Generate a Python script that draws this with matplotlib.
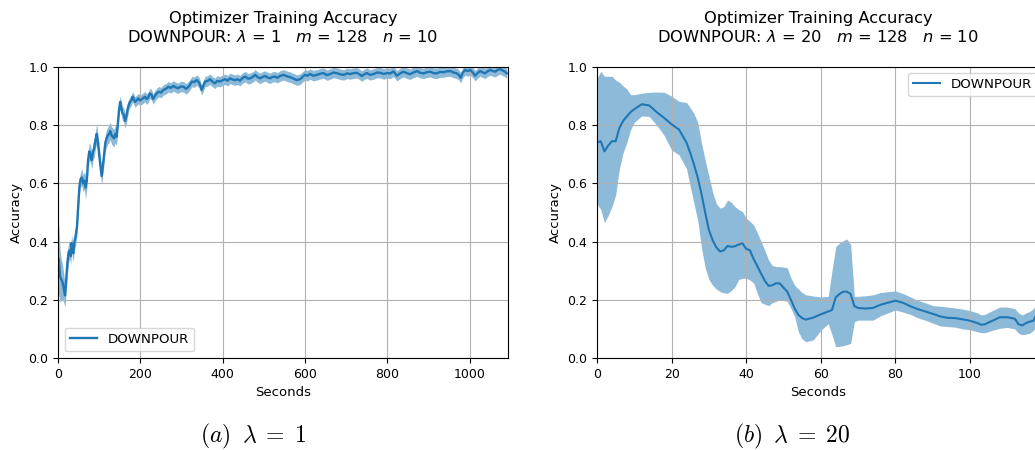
import numpy as np
import matplotlib
matplotlib.use("Agg")
from matplotlib import pyplot as plt

plt.rcParams['mathtext.fontset'] = 'cm'

# --- left panel: lambda = 1 (seconds, mean accuracy, band half width)
left_t = [0, 2, 5, 8, 11, 14, 17, 20, 23, 26,
          29, 31, 33, 35, 37, 40, 43, 46, 49, 52,
          55, 58, 61, 64, 67, 70, 73, 76, 79, 82,
          85, 88, 91, 94, 97, 100, 103, 106, 109, 112,
          115, 118, 121, 124, 127, 130, 133, 136, 139, 142,
          145, 148, 151, 154, 157, 160, 163, 166, 169, 172,
          175, 178, 181, 184, 187, 191, 195, 199, 203, 207,
          211, 215, 219, 223, 227, 231, 235, 240, 245, 250,
          256, 262, 268, 274, 280, 286, 292, 298, 305, 311,
          317, 321, 325, 331, 337, 342, 345, 349, 353, 357,
          363, 369, 375, 381, 387, 394, 400, 406, 412, 418,
          424, 430, 436, 442, 448, 455, 461, 467, 473, 479,
          485, 491, 497, 503, 509, 515, 521, 527, 533, 539,
          548, 556, 564, 572, 580, 588, 594, 600, 606, 612,
          620, 629, 637, 645, 653, 661, 669, 677, 685, 694,
          702, 710, 718, 726, 732, 738, 744, 750, 758, 767,
          775, 783, 791, 799, 807, 815, 823, 831, 839, 847,
          855, 863, 872, 880, 888, 896, 904, 912, 920, 928,
          936, 944, 953, 961, 969, 974, 978, 983, 989, 995,
          1001, 1007, 1013, 1019, 1025, 1031, 1037, 1043, 1050, 1056,
          1062, 1068, 1074, 1080, 1086, 1090]
left_acc = [0.30, 0.34, 0.28, 0.27, 0.26, 0.24, 0.215, 0.27, 0.33, 0.365,
            0.37, 0.35, 0.395, 0.375, 0.36, 0.40, 0.42, 0.45, 0.52, 0.59,
            0.615, 0.62, 0.60, 0.61, 0.585, 0.61, 0.68, 0.71, 0.70, 0.68,
            0.71, 0.72, 0.75, 0.77, 0.74, 0.70, 0.66, 0.625, 0.66, 0.70,
            0.74, 0.755, 0.765, 0.77, 0.78, 0.765, 0.76, 0.755, 0.77, 0.76,
            0.80, 0.85, 0.88, 0.855, 0.84, 0.835, 0.815, 0.83, 0.855, 0.87,
            0.88, 0.885, 0.898, 0.89, 0.88, 0.885, 0.892, 0.885, 0.889, 0.893,
            0.898, 0.89, 0.895, 0.909, 0.905, 0.89, 0.90, 0.91, 0.915, 0.912,
            0.921, 0.925, 0.932, 0.928, 0.935, 0.93, 0.927, 0.933, 0.932, 0.925,
            0.932, 0.94, 0.95, 0.948, 0.955, 0.948, 0.938, 0.921, 0.935, 0.95,
            0.952, 0.958, 0.95, 0.944, 0.952, 0.95, 0.955, 0.958, 0.953, 0.961,
            0.957, 0.955, 0.958, 0.953, 0.962, 0.967, 0.96, 0.961, 0.966, 0.973,
            0.965, 0.961, 0.966, 0.969, 0.964, 0.961, 0.966, 0.967, 0.963, 0.969,
            0.973, 0.968, 0.965, 0.96, 0.955, 0.958, 0.966, 0.973, 0.97, 0.976,
            0.97, 0.973, 0.977, 0.979, 0.972, 0.976, 0.981, 0.979, 0.975, 0.973,
            0.978, 0.976, 0.979, 0.98, 0.975, 0.969, 0.975, 0.979, 0.973, 0.976,
            0.981, 0.98, 0.976, 0.979, 0.978, 0.985, 0.97, 0.978, 0.984, 0.979,
            0.975, 0.981, 0.986, 0.98, 0.978, 0.982, 0.984, 0.979, 0.978, 0.983,
            0.982, 0.985, 0.986, 0.981, 0.978, 0.972, 0.963, 0.98, 0.99, 0.986,
            0.99, 0.982, 0.97, 0.979, 0.986, 0.982, 0.978, 0.985, 0.99, 0.986,
            0.984, 0.99, 0.993, 0.988, 0.984, 0.978]
left_err = [0.15, 0.12, 0.09, 0.07, 0.06, 0.05, 0.04, 0.04, 0.04, 0.035,
            0.03, 0.03, 0.03, 0.03, 0.03, 0.03, 0.03, 0.03, 0.03, 0.03,
            0.025, 0.03, 0.03, 0.03, 0.04, 0.03, 0.03, 0.03, 0.03, 0.03,
            0.03, 0.03, 0.03, 0.035, 0.03, 0.03, 0.03, 0.03, 0.03, 0.03,
            0.03, 0.03, 0.03, 0.03, 0.03, 0.03, 0.03, 0.03, 0.03, 0.03,
            0.03, 0.025, 0.02, 0.025, 0.025, 0.025, 0.025, 0.025, 0.025, 0.02]
left_err = left_err + [0.018] * (len(left_t) - len(left_err))

# --- right panel: lambda = 20
right_t = [0, 1, 2, 3, 4, 5, 6, 7, 8, 9,
           10, 12, 14, 16, 18, 20, 22, 24, 25, 26,
           27, 28, 29, 30, 31, 32, 33, 34, 35, 36,
           37, 38, 39, 40, 41, 42, 43, 44, 45, 46,
           47, 48, 49, 51, 52, 53, 54, 55, 56, 58,
           60, 62, 63, 64, 65, 66, 67, 68, 69, 70,
           72, 74, 76, 78, 80, 82, 84, 86, 88, 90,
           92, 94, 96, 98, 100, 102, 103, 104, 106, 108,
           110, 112, 113, 114, 115, 116, 117, 118]
right_acc = [.74, .745, .71, .73, .745, .745, .79, .815, .83, .845,
             .855, .872, .868, .845, .825, .803, .785, .74, .705, .665,
             .62, .565, .5, .44, .405, .38, .366, .37, .385, .382,
             .384, .39, .394, .375, .37, .34, .315, .29, .265, .248,
             .25, .257, .256, .228, .2, .17, .148, .137, .132, .139,
             .15, .16, .165, .208, .22, .228, .228, .22, .178, .172,
             .17, .172, .183, .19, .197, .19, .178, .168, .16, .152,
             .143, .138, .137, .133, .128, .12, .114, .116, .128, .14,
             .14, .135, .116, .112, .12, .125, .128, .155]
right_lo = [.53, .51, .465, .49, .52, .56, .65, .705, .74, .785,
            .81, .832, .83, .8, .765, .715, .698, .65, .59, .53,
            .474, .38, .31, .27, .25, .237, .228, .224, .222, .232,
            .245, .27, .274, .274, .268, .257, .222, .19, .185, .18,
            .19, .195, .2, .195, .17, .142, .09, .065, .056, .062,
            .095, .118, .08, .039, .04, .042, .046, .05, .125, .13,
            .13, .13, .145, .155, .165, .158, .15, .138, .13, .12,
            .11, .108, .106, .1, .097, .09, .087, .087, .095, .102,
            .105, .1, .085, .08, .082, .085, .095, .11]
right_hi = [.96, .985, .968, .968, .968, .955, .948, .935, .925, .905,
            .905, .91, .913, .914, .913, .9, .882, .878, .86, .84,
            .81, .74, .68, .625, .57, .53, .515, .52, .543, .535,
            .52, .51, .503, .48, .47, .457, .43, .40, .37, .337,
            .318, .314, .314, .31, .275, .25, .237, .225, .217, .213,
            .21, .212, .30, .383, .395, .403, .409, .39, .212, .212,
            .214, .217, .225, .228, .23, .222, .21, .198, .19, .18,
            .178, .175, .172, .168, .163, .155, .148, .15, .163, .175,
            .175, .17, .155, .148, .155, .16, .17, .19]

blue = '#1f77b4'

fig = plt.figure(figsize=(10.35, 4.5), dpi=100)
ax1 = fig.add_axes([58 / 1035, 92 / 450, 450 / 1035, 291 / 450])
ax2 = fig.add_axes([597 / 1035, 92 / 450, 442 / 1035, 291 / 450])

lt = np.array(left_t)
la = np.array(left_acc)
le = np.array(left_err)
ax1.fill_between(lt, la - le, la + le, color=blue, alpha=0.5, lw=0)
ax1.plot(lt, la, color=blue, lw=1.7, label='DOWNPOUR')
ax1.set_xlim(0, 1093)
ax1.legend(loc='lower left', fontsize=9.6)

ax2.fill_between(right_t, right_lo, right_hi, color=blue, alpha=0.5, lw=0)
ax2.plot(right_t, right_acc, color=blue, lw=1.5, label='DOWNPOUR')
ax2.set_xlim(0, 118.5)
ax2.legend(loc='upper left', bbox_to_anchor=(311 / 442, 0.98),
           borderaxespad=0, fontsize=9.6)

for ax, lam in ((ax1, 1), (ax2, 20)):
    ax.set_ylim(0, 1.0)
    ax.grid(True)
    ax.set_xlabel('Seconds', fontsize=9.5)
    ax.set_ylabel('Accuracy', fontsize=9.5)
    ax.tick_params(labelsize=9)
    ax.set_title('Optimizer Training Accuracy\n'
                 'DOWNPOUR: $\\lambda$ = %d   $m$ = 128   $n$ = 10' % lam,
                 fontsize=11.7, pad=18, math_fontfamily='dejavusans')

fig.text(253 / 1035, 8 / 450, r'$(a)\;\;\lambda\;=\;1$', ha='center', va='baseline', fontsize=17)
fig.text(792 / 1035, 8 / 450, r'$(b)\;\;\lambda\;=\;20$', ha='center', va='baseline', fontsize=17)

fig.savefig('out.png', dpi=100)
